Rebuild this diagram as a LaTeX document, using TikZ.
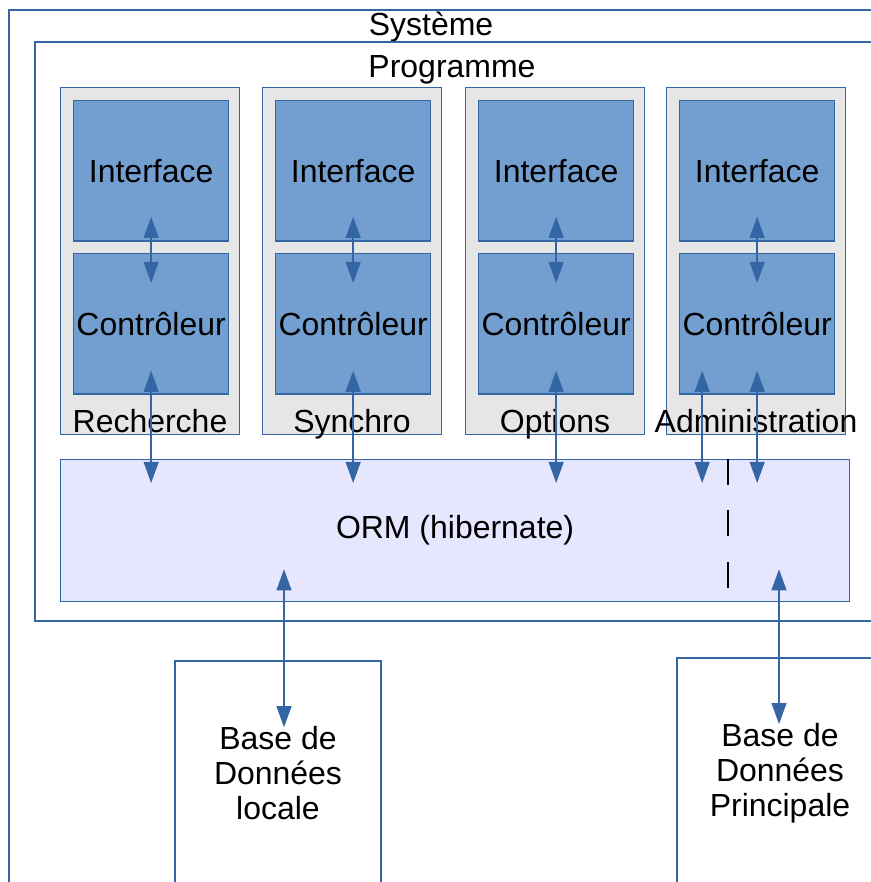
\documentclass[tikz,border=0pt]{standalone}
\usepackage{fontspec}
\setmainfont{Liberation Sans}
\usetikzlibrary{arrows.meta,calc}
\definecolor{bleutrait}{HTML}{3465A4}
\definecolor{bleufond}{HTML}{729FCF}
\definecolor{grisfond}{HTML}{E6E6E6}
\definecolor{lavande}{HTML}{E6E6FF}

\begin{document}
\begin{tikzpicture}[x=0.02cm, y=-0.02cm,
    every node/.style={font=\fontsize{18.2}{19.8}\selectfont},
    cadre/.style={draw=bleutrait, line width=0.75pt},
    module/.style={cadre, fill=grisfond, anchor=north west, minimum width=3.58cm, minimum height=6.94cm, inner sep=0pt},
    bloc/.style={cadre, fill=bleufond, anchor=north west, minimum width=3.1cm, minimum height=2.81cm, inner sep=0pt},
    fleche/.style={bleutrait, line width=0.8pt, {Triangle[length=12pt, width=8.5pt]}-{Triangle[length=12pt, width=8.5pt]}}]

        \path[use as bounding box, clip] (0,0) rectangle (871,882);

        % systeme et programme
        \draw[cadre] (9,10) rectangle (900,900);
        \node[anchor=base] (systeme) at (431,36) {Système};
        \draw[cadre] (35,42) rectangle (900,621);
        \node[anchor=base] (programme) at (452,78) {Programme};

        % modules
        \foreach \x/\nom/\titre in {60/rech/Recherche, 262/sync/Synchro, 465/opt/Options, 666/admin/Administration} {
            \node[module] (\nom) at (\x,87) {};
            \node[bloc] (\nom-i) at (\x+13,100) {Interface};
            \node[bloc] (\nom-c) at (\x+13,253) {Contrôleur};
            \node[anchor=base] (\nom-t) at (\x+90,432) {\titre};
        }

        % couche ORM
        \node[cadre, fill=lavande, anchor=north west, minimum width=15.78cm, minimum height=2.84cm] (orm) at (60,459) {ORM (hibernate)};
        \draw[line width=0.8pt, dash pattern=on 0.52cm off 0.51cm] ($(orm.north west)+(668,0)$) -- ($(orm.south west)+(668,-13)$);

        % bases de donnees
        \draw[cadre] (175,661) rectangle (381,900);
        \node[align=center] (bdl) at (278,773) {Base de\\Données\\locale};
        \draw[cadre] (677,658) rectangle (900,900);
        \node[align=center] (bdp) at (780,773) {Base de\\Données\\Principale};

        % liaisons
        \foreach \nom in {rech, sync, opt, admin} {
            \draw[fleche] ($(\nom-i.south)+(0,-25)$) -- ($(\nom-c.north)+(0,30)$);
            \draw[fleche] ($(\nom-c.south)+(0,-24)$) -- ($(\nom-c.south |- orm.north)+(0,24)$);
        }
        \draw[fleche] ($(admin-c.south)+(-55,-24)$) -- ($(admin-c.south |- orm.north)+(-55,24)$);
        \draw[fleche] ($(orm.south -| bdl.north)+(6,-33)$) -- ($(bdl.north)+(6,7)$);
        \draw[fleche] ($(orm.south -| bdp.north)+(-1,-33)$) -- ($(bdp.north)+(-1,7)$);

\end{tikzpicture}
\end{document}
